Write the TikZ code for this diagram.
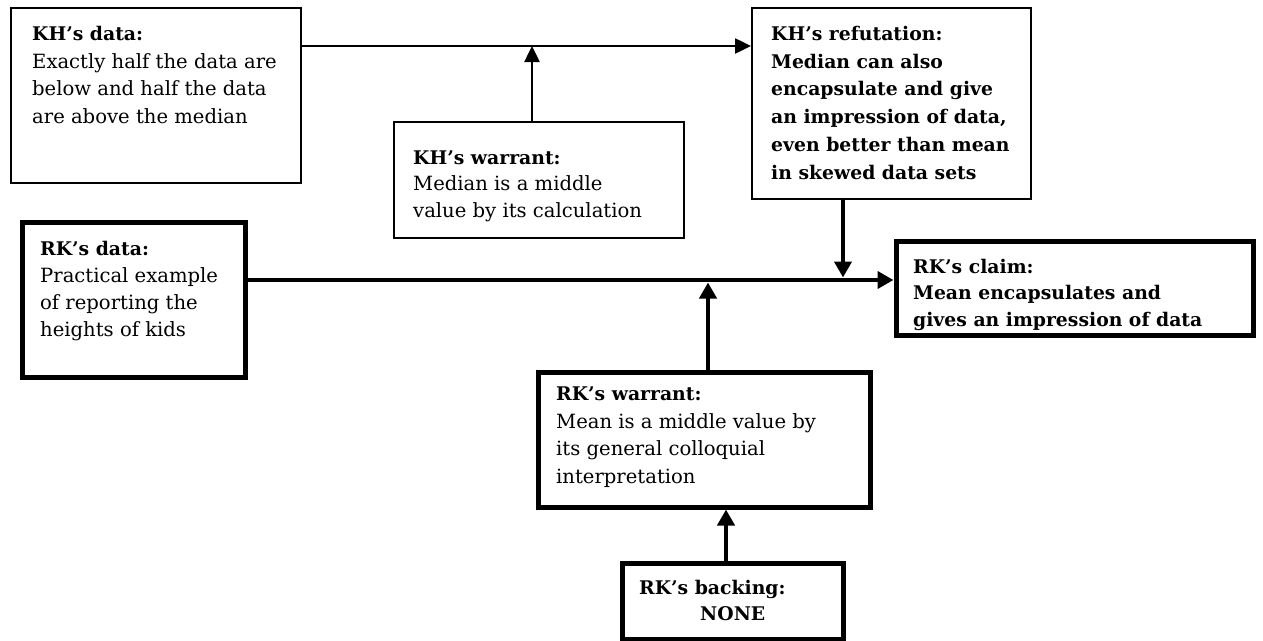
\documentclass[tikz,border=0pt]{standalone}
\usepackage{fontspec}
\setmainfont{DejaVu Serif}
\usetikzlibrary{arrows.meta}
\newcommand{\firstline}{\rule{0pt}{16pt}}
\newcommand{\hd}[1]{{\fontsize{18.8}{27.8}\selectfont\bfseries #1}}
\begin{document}
\begin{tikzpicture}[x=1pt,y=-1pt,
  thinbox/.style={draw,line width=2pt,rectangle,inner sep=0pt,anchor=north west},
  thickbox/.style={draw,line width=5pt,rectangle,inner sep=0pt,anchor=north west},
  txt/.style={inner sep=0pt,anchor=north west,align=left,
    font=\fontsize{19.6}{27.8}\selectfont},
  boldtxt/.style={txt,font=\fontsize{18.8}{27.8}\selectfont\bfseries},
  thinarrow/.style={line width=2.5pt,-{Triangle[length=16pt,width=15pt]}},
  thickarrow/.style={line width=4.5pt,-{Triangle[length=16pt,width=17pt]}}
]
\useasboundingbox (0,0) rectangle (1263,640);

% KH's argument (thin boxes)
\node[thinbox,minimum width=290pt,minimum height=175pt] (khdata) at (10,7) {};
\node[txt] (khdatatxt) at (32,24) {\firstline\hd{KH’s data:}\\Exactly half the data are\\below and half the data\\are above the median};

\node[thinbox,minimum width=290pt,minimum height=116pt] (khwarrant) at (393,121) {};
\node[txt,font=\fontsize{19.6}{26.5}\selectfont] (khwarranttxt) at (413,148) {\firstline\hd{KH’s warrant:}\\Median is a middle\\value by its calculation};

\node[thinbox,minimum width=279pt,minimum height=191pt] (khref) at (751,7) {};
\node[boldtxt] (khreftxt) at (771,24) {\firstline KH’s refutation:\\Median can also\\encapsulate and give\\an impression of data,\\even better than mean\\in skewed data sets};

% RK's argument (thick boxes)
\node[thickbox,minimum width=223pt,minimum height=155pt] (rkdata) at (19.5,219.5) {};
\node[txt,font=\fontsize{19.6}{27}\selectfont] (rkdatatxt) at (40,239) {\firstline\hd{RK’s data:}\\Practical example\\of reporting the\\heights of kids};

\node[thickbox,minimum width=357pt,minimum height=94pt] (rkclaim) at (893.5,239) {};
\node[boldtxt,font=\fontsize{18.8}{26.5}\selectfont\bfseries] (rkclaimtxt) at (913,257) {\firstline RK’s claim:\\Mean encapsulates and\\gives an impression of data};

\node[thickbox,minimum width=332pt,minimum height=135pt] (rkwarrant) at (535.5,369.5) {};
\node[txt] (rkwarranttxt) at (556,384) {\firstline\hd{RK’s warrant:}\\Mean is a middle value by\\its general colloquial\\interpretation};

\node[thickbox,minimum width=221pt,minimum height=76pt] (rkbacking) at (619.5,560.5) {};
\node[boldtxt,font=\fontsize{18.8}{26.5}\selectfont\bfseries] (rkbackingtxt) at (639,578) {\firstline RK’s backing:\\\hspace*{61pt}NONE};

% junction points on the two main lines
\coordinate (kjoin) at (532,46);
\coordinate (rjoinref) at (843,280);
\coordinate (rjoinwar) at (708,280);
\coordinate (bjoin) at (726,500);

% KH: data -> refutation, warrant supports it
\draw[thinarrow] (khdata.east |- kjoin) -- (khref.west |- kjoin);
\draw[thinarrow] (khwarrant.north -| kjoin) -- (kjoin);

% RK: data -> claim, refutation and warrant meet the line
\draw[thickarrow] (rkdata.east |- rjoinref) -- (rkclaim.west |- rjoinref);
\draw[thickarrow] (khref.south -| rjoinref) -- ([yshift=2.5pt]rjoinref);
\draw[thickarrow] (rkwarrant.north -| rjoinwar) -- ([yshift=-2.5pt]rjoinwar);
\draw[thickarrow] (rkbacking.north -| bjoin) -- (rkwarrant.south -| bjoin);
\end{tikzpicture}
\end{document}
